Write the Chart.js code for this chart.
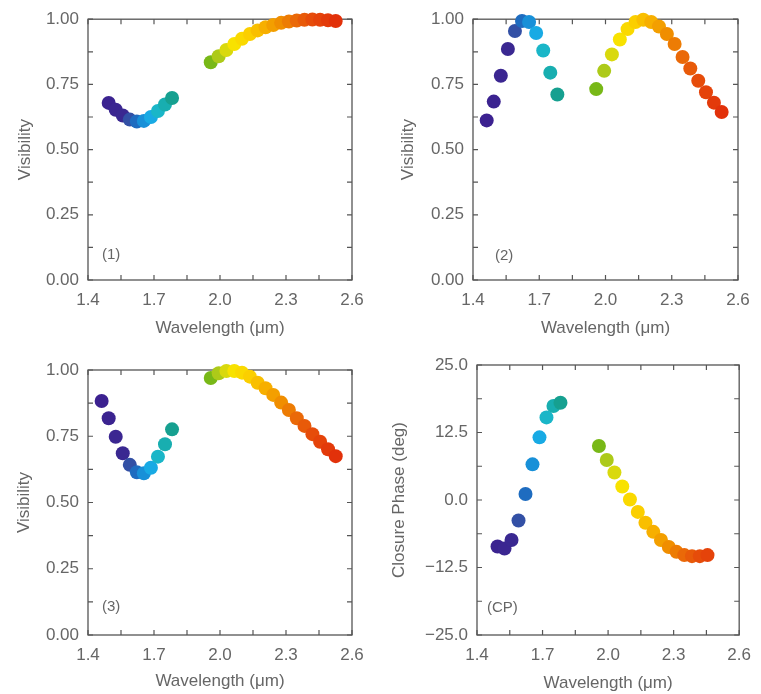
<!DOCTYPE html>
<html>
<head>
<meta charset="utf-8">
<script src="https://cdn.jsdelivr.net/npm/chart.js@4"></script>
<style>
  body { margin: 0; background: #fff; }
  canvas { position: absolute; }
</style>
</head>
<body>
<canvas id="c1"></canvas>
<canvas id="c2"></canvas>
<canvas id="c3"></canvas>
<canvas id="c4"></canvas>
<script>
// wavelength grid (um), H and K bands
const waveH = [1.462, 1.494, 1.526, 1.558, 1.590, 1.622, 1.654, 1.686, 1.718, 1.750, 1.782];
const waveK = [1.958, 1.994, 2.029, 2.065, 2.100, 2.136, 2.171, 2.207, 2.242, 2.278, 2.313, 2.349, 2.384, 2.420, 2.455, 2.491, 2.526];

// visibilities, null = no point
const vis1H = [null, 0.679, 0.653, 0.631, 0.615, 0.608, 0.610, 0.625, 0.648, 0.673, 0.698];
const vis1K = [0.835, 0.858, 0.882, 0.905, 0.925, 0.943, 0.957, 0.969, 0.978, 0.986, 0.991, 0.995, 0.998, 0.999, 0.998, 0.996, 0.993];
const vis2H = [0.612, 0.684, 0.783, 0.886, 0.955, 0.993, 0.989, 0.947, 0.880, 0.795, 0.711];
const vis2K = [0.732, 0.802, 0.865, 0.922, 0.962, 0.989, 0.998, 0.989, 0.972, 0.943, 0.905, 0.855, 0.811, 0.764, 0.720, 0.680, 0.644];
const vis3H = [0.883, 0.818, 0.748, 0.686, 0.642, 0.614, 0.610, 0.631, 0.673, 0.720, 0.776];
const vis3K = [0.970, 0.988, 0.996, 0.996, 0.990, 0.975, 0.952, 0.931, 0.906, 0.877, 0.849, 0.818, 0.789, 0.758, 0.729, 0.701, 0.675];
// closure phase (deg)
const cpH = [null, -8.6, -9.0, -7.4, -3.8, 1.1, 6.6, 11.6, 15.3, 17.4, 18.0];
const cpK = [10.0, 7.4, 5.1, 2.5, 0.1, -2.2, -4.2, -5.9, -7.4, -8.7, -9.6, -10.2, -10.4, -10.4, -10.2];

const xTicks = [1.4, 1.7, 2.0, 2.3, 2.6];
const visTicks = [0, 0.25, 0.5, 0.75, 1];
const cpTicks = [-25, -12.5, 0, 12.5, 25];

const textColor = '#666';
const frameColor = '#555';
const fontFam = '"Liberation Sans", Arial, sans-serif';

// rainbow colour by wavelength
const cmap = [
  [1.46, '#3c2190'], [1.56, '#3a2891'], [1.59, '#3350a5'], [1.622, '#1e6cc0'],
  [1.654, '#1890d8'], [1.686, '#18aae4'], [1.718, '#1ab6c8'], [1.75, '#18aeb0'],
  [1.782, '#16a090'], [1.95, '#6cb416'], [1.99, '#a8c81a'], [2.025, '#d6d80e'],
  [2.065, '#f8e200'], [2.134, '#fbd000'], [2.205, '#f7b000'], [2.275, '#f09000'],
  [2.346, '#ea6a08'], [2.413, '#e64e0a'], [2.53, '#e2300a']
];
function hex(h) { return [1, 3, 5].map(i => parseInt(h.substr(i, 2), 16)); }
function colorAt(w) {
  if (w <= cmap[0][0]) return cmap[0][1];
  for (let i = 1; i < cmap.length; i++) {
    if (w <= cmap[i][0]) {
      const t = (w - cmap[i - 1][0]) / (cmap[i][0] - cmap[i - 1][0]);
      const a = hex(cmap[i - 1][1]), b = hex(cmap[i][1]);
      const c = a.map((v, k) => Math.round(v + (b[k] - v) * t));
      return 'rgb(' + c.join(',') + ')';
    }
  }
  return cmap[cmap.length - 1][1];
}

function band(wave, vals) {
  const pts = [];
  wave.forEach((w, i) => { if (vals[i] !== null && vals[i] !== undefined) pts.push({ x: w, y: vals[i] }); });
  return {
    data: pts,
    backgroundColor: pts.map(p => colorAt(p.x)),
    borderWidth: 0,
    pointRadius: 7,
    pointHoverRadius: 7,
    clip: false
  };
}

// frame with inward ticks on all sides + panel tag
const framePlugin = {
  id: 'frame',
  beforeDatasetsDraw(chart) {
    const { ctx, chartArea: a, scales } = chart;
    const o = chart.options.plugins.frame;
    ctx.save();
    ctx.strokeStyle = frameColor;
    ctx.lineWidth = 1.3;
    ctx.strokeRect(a.left, a.top, a.right - a.left, a.bottom - a.top);
    ctx.lineWidth = 1.2;
    const L = 5;
    ctx.beginPath();
    for (let v = scales.x.min; v <= scales.x.max + 1e-9; v += 0.15) {
      const px = scales.x.getPixelForValue(v);
      ctx.moveTo(px, a.bottom); ctx.lineTo(px, a.bottom - L);
      ctx.moveTo(px, a.top); ctx.lineTo(px, a.top + L);
    }
    for (let v = scales.y.min; v <= scales.y.max + 1e-9; v += o.yMinor) {
      const py = scales.y.getPixelForValue(v);
      ctx.moveTo(a.left, py); ctx.lineTo(a.left + L, py);
      ctx.moveTo(a.right, py); ctx.lineTo(a.right - L, py);
    }
    ctx.stroke();
    ctx.fillStyle = textColor;
    ctx.font = '15px ' + fontFam;
    ctx.textBaseline = 'middle';
    ctx.fillText(o.tag, a.left + o.tagDx, a.bottom - o.tagDy);
    ctx.restore();
  }
};

function makePanel(id, box, area, cfg) {
  const cv = document.getElementById(id);
  cv.width = box.w; cv.height = box.h;
  cv.style.left = box.x + 'px'; cv.style.top = box.y + 'px';
  const yW = area.l - box.x;
  const xH = box.y + box.h - area.b;
  return new Chart(cv, {
    type: 'scatter',
    data: { datasets: [band(waveH, cfg.h), band(waveK, cfg.k)] },
    options: {
      responsive: false,
      animation: false,
      layout: { padding: { left: 0, top: area.t - box.y, right: box.x + box.w - area.r, bottom: 0 } },
      plugins: {
        legend: { display: false },
        tooltip: { enabled: false },
        frame: { yMinor: cfg.yMinor, tag: cfg.tag, tagDx: cfg.tagDx, tagDy: cfg.tagDy }
      },
      scales: {
        x: {
          type: 'linear', min: 1.4, max: 2.6,
          afterBuildTicks: s => { s.ticks = xTicks.map(v => ({ value: v })); },
          ticks: { padding: 10, color: textColor, font: { size: 17, family: fontFam }, maxRotation: 0, autoSkip: false,
                   callback: v => v.toFixed(1) },
          grid: { display: false, drawTicks: false },
          border: { display: false },
          title: { display: true, text: 'Wavelength (μm)', color: textColor,
                   font: { size: 17, family: fontFam }, padding: { top: 0, bottom: cfg.xTitlePad } },
          afterFit: s => { s.height = xH; }
        },
        y: {
          type: 'linear', min: cfg.yMin, max: cfg.yMax,
          afterBuildTicks: s => { s.ticks = cfg.yTicks.map(v => ({ value: v })); },
          ticks: { padding: 9, color: textColor, font: { size: 17, family: fontFam }, autoSkip: false,
                   callback: v => (v < 0 ? '\u2212' : '') + Math.abs(v).toFixed(cfg.yDec) },
          grid: { display: false, drawTicks: false },
          border: { display: false },
          title: { display: true, text: cfg.yTitle, color: textColor,
                   font: { size: 17, family: fontFam }, padding: { top: cfg.yTitlePad, bottom: 0 } },
          afterFit: s => { s.width = yW; }
        }
      }
    },
    plugins: [framePlugin]
  });
}

makePanel('c1', { x: 0, y: 0, w: 375, h: 345 }, { l: 88, t: 16, r: 352, b: 280 },
  { h: vis1H, k: vis1K, yMin: 0, yMax: 1, yTicks: visTicks, yDec: 2, yMinor: 0.125, yTitle: 'Visibility',
    yTitlePad: 14.8, xTitlePad: 6.8, tag: '(1)', tagDx: 14, tagDy: 25 });
makePanel('c2', { x: 380, y: 0, w: 381, h: 345 }, { l: 473, t: 16, r: 738, b: 280 },
  { h: vis2H, k: vis2K, yMin: 0, yMax: 1, yTicks: visTicks, yDec: 2, yMinor: 0.125, yTitle: 'Visibility',
    yTitlePad: 17.8, xTitlePad: 6.8, tag: '(2)', tagDx: 22, tagDy: 24 });
makePanel('c3', { x: 0, y: 345, w: 375, h: 349 }, { l: 88, t: 370, r: 352, b: 635 },
  { h: vis3H, k: vis3K, yMin: 0, yMax: 1, yTicks: visTicks, yDec: 2, yMinor: 0.125, yTitle: 'Visibility',
    yTitlePad: 13.8, xTitlePad: 2.1, tag: '(3)', tagDx: 14, tagDy: 28 });
makePanel('c4', { x: 380, y: 345, w: 381, h: 349 }, { l: 477, t: 365, r: 747, b: 635 },
  { h: cpH, k: cpK, yMin: -25, yMax: 25, yTicks: cpTicks, yDec: 1, yMinor: 6.25, yTitle: 'Closure Phase (deg)',
    yTitlePad: 9, xTitlePad: 0.8, tag: '(CP)', tagDx: 10, tagDy: 27 });
</script>
</body>
</html>
